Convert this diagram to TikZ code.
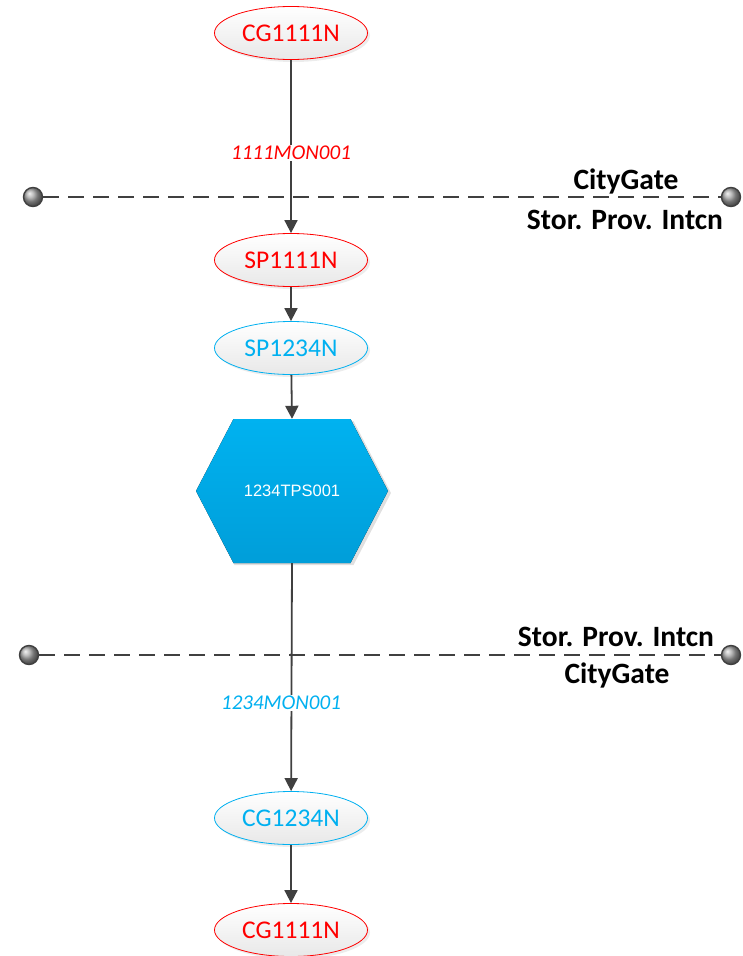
\documentclass[tikz,border=0pt]{standalone}
\usepackage{fontspec}
\setmainfont{Carlito}
\newfontfamily\arialfont{Liberation Sans}
\usetikzlibrary{shapes.geometric,arrows.meta,shadows,calc}

\definecolor{nodered}{HTML}{FF0000}
\definecolor{nodeblue}{HTML}{00B0F0}
\definecolor{linegray}{HTML}{404040}
\definecolor{hextop}{HTML}{00B2F0}
\definecolor{hexbot}{HTML}{009ED9}

\begin{document}
\begin{tikzpicture}[x=1pt,y=-1pt,
  station/.style={ellipse, minimum width=153pt, minimum height=53pt, inner sep=0pt,
    top color=white, bottom color=black!9, draw=#1, line width=0.8pt, text=#1,
    font=\fontsize{25.5}{29}\selectfont,
    drop shadow={shadow xshift=2.5pt, shadow yshift=-2.5pt, opacity=0.15}},
  flow/.style={draw=linegray, line width=1.8pt, -{Triangle[width=13pt,length=13pt]}},
  meter/.style={fill=white, inner sep=1pt, text=#1,
    font=\fontsize{21}{24}\selectfont\itshape},
  boundary/.style={draw=linegray, line width=1.8pt, dash pattern=on 16pt off 9pt},
  endball/.style={circle, minimum size=19pt, inner sep=0pt, draw=linegray,
    line width=1.4pt, ball color=black!35},
  zonelabel/.style={font=\fontsize{29.5}{32}\selectfont\bfseries, text=black, inner sep=0pt}
]
\useasboundingbox (0,0) rectangle (743,956);

% metering stations
\node[station=nodered]  (cgtop) at (291,33)  {CG1111N};
\node[station=nodered]  (sp1)   at (291,260) {SP1111N};
\node[station=nodeblue] (sp2)   at (291,348) {SP1234N};
\node[station=nodeblue] (cg2)   at (291,818) {CG1234N};
\node[station=nodered]  (cgbot) at (291,930) {CG1111N};

% transfer point hexagon
\coordinate (hc) at (292,491);
\fill[black, opacity=0.12] ($(hc)+(-57.5,-70)$) -- ($(hc)+(61.5,-70)$) -- ($(hc)+(99,2)$)
  -- ($(hc)+(61.5,74)$) -- ($(hc)+(-57.5,74)$) -- ($(hc)+(-94,2)$) -- cycle;
\fill[top color=hextop, bottom color=hexbot]
  ($(hc)+(-58.5,-72)$) -- ($(hc)+(58.5,-72)$) -- ($(hc)+(96,0)$)
  -- ($(hc)+(58.5,72)$) -- ($(hc)+(-58.5,72)$) -- ($(hc)+(-96,0)$) -- cycle;
\node[minimum width=192pt, minimum height=144pt, inner sep=0pt, text=white,
  font=\arialfont\fontsize{16.5}{19}\selectfont] (tps) at (hc) {1234TPS001};

% flows
\draw[flow] (cgtop) -- (sp1);
\draw[flow] (sp1) -- (sp2);
\draw[flow] (sp2) -- (tps.north);
\draw[flow] (tps.south) -- (cg2);
\draw[flow] (cg2) -- (cgbot);

% meter labels
\node[meter=nodered]  (m1) at (291,153) {1111MON001};
\node[meter=nodeblue] (m2) at (281,703) {1234MON001};

% zone boundaries
\node[endball] (b1l) at (33,197)  {};
\node[endball] (b1r) at (731,197) {};
\draw[boundary] (b1l) -- (b1r);
\node[endball] (b2l) at (29,655)  {};
\node[endball] (b2r) at (731,655) {};
\draw[boundary] (b2l) -- (b2r);

\node[zonelabel] (z1a) at (626,181) {CityGate};
\node[zonelabel] (z1b) at (625,220) {Stor. Prov. Intcn};
\node[zonelabel] (z2a) at (616,637) {Stor. Prov. Intcn};
\node[zonelabel] (z2b) at (617,675) {CityGate};
\end{tikzpicture}
\end{document}
